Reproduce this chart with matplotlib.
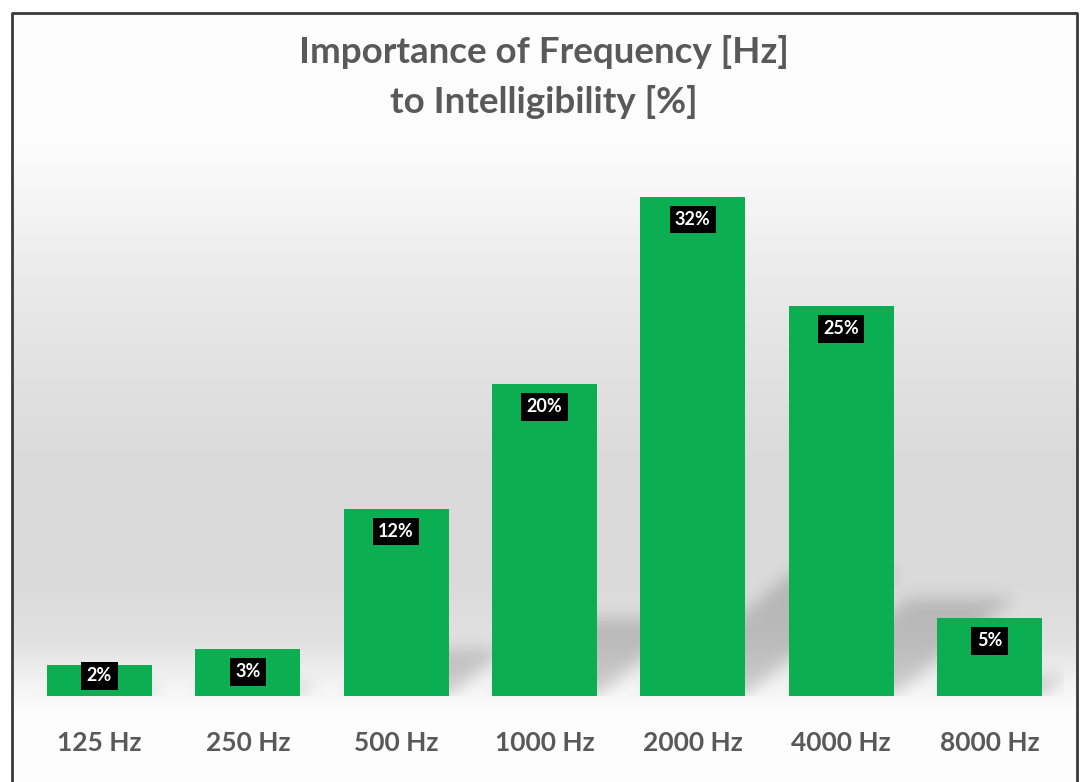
import numpy as np
import matplotlib
matplotlib.use("Agg")
import matplotlib.pyplot as plt
from matplotlib.lines import Line2D

# Data
bands = ["125 Hz", "250 Hz", "500 Hz", "1000 Hz", "2000 Hz", "4000 Hz", "8000 Hz"]
importance = [2, 3, 12, 20, 32, 25, 5]
value_labels = ["2%", "3%", "12%", "20%", "32%", "25%", "5%"]

W, H = 1088, 782
BAR_GREEN = "#0bae50"
TEXT_GREY = "#595959"
FONT = "Lato"

fig = plt.figure(figsize=(W / 100, H / 100), dpi=100)

# Background: white top, grey middle, fading back to white at the floor
bg = fig.add_axes([0, 0, 1, 1], zorder=0)
rows = np.arange(H)
stops_px = [0, 150, 230, 300, 450, 580, 640, 690, 712, H]
stops_val = [254, 252, 241, 232, 219, 218, 225, 246, 253, 254]
col = np.interp(rows, stops_px, stops_val) / 255.0
grad = np.repeat(col[:, None], 8, axis=1)
bg.imshow(np.dstack([grad, grad, grad]), aspect="auto", extent=(0, 1, 0, 1),
          interpolation="bilinear")
# white margin outside the frame
bg.axvspan(0, 12 / W, color="white", lw=0)
bg.axvspan(1077 / W, 1, color="white", lw=0)
bg.axhspan(1 - 13 / H, 1, color="white", lw=0)
bg.set_xlim(0, 1)
bg.set_ylim(0, 1)
bg.axis("off")

# Frame
fx0, fx1, fy1 = 12 / W, 1077 / W, 1 - 13 / H
fig.add_artist(Line2D([fx0, fx0, fx1, fx1], [0, fy1, fy1, 0],
                      transform=fig.transFigure, color="#3a3a3a", lw=2))

# Main axes
x = np.arange(len(bands))
ymax = 36
ax = fig.add_axes([25.3 / W, 86 / H, 1038.4 / W, 561.6 / H], zorder=2)
ax.set_facecolor("none")
ax.set_xlim(-0.5, len(bands) - 0.5)
ax.set_ylim(0, ymax)
bar_w = 0.708

# Soft cast shadows leaning up and to the right of each bar
nx, ny = 1038, 562
gx = np.linspace(-0.5, len(bands) - 0.5, nx)
gy = np.linspace(ymax, 0, ny)
XX, YY = np.meshgrid(gx, gy)
mask = np.zeros((ny, nx))
lean = 0.13
for xi, v in zip(x, importance):
    xl = xi - bar_w / 2 + lean * YY
    xr = xi + bar_w / 2 + lean * YY
    inside = (XX >= xl) & (XX <= xr) & (YY <= 0.25 * v)
    mask[inside] = 1.0
sig = 8
k = np.exp(-0.5 * (np.arange(-3 * sig, 3 * sig + 1) / sig) ** 2)
k /= k.sum()
mask = np.apply_along_axis(lambda r: np.convolve(r, k, mode="same"), 1, mask)
mask = np.apply_along_axis(lambda c: np.convolve(c, k, mode="same"), 0, mask)
shadow = np.zeros((ny, nx, 4))
shadow[..., 3] = 0.17 * mask
ax.imshow(shadow, extent=(-0.5, len(bands) - 0.5, 0, ymax), aspect="auto",
          zorder=1, interpolation="bilinear")

ax.bar(x, importance, width=bar_w, color=BAR_GREEN, zorder=2)

# Value tags
for xi, v, lab in zip(x, importance, value_labels):
    ax.text(xi, max(v - 1.45, 1.3), lab, ha="center", va="center",
            color="white", fontsize=13, fontweight="bold", family=FONT,
            zorder=3,
            bbox=dict(boxstyle="square,pad=0.3", fc="black", ec="none"))

ax.set_xticks(x)
ax.set_xticklabels(bands, fontsize=19, fontweight="bold", color=TEXT_GREY,
                   family=FONT)
ax.tick_params(axis="x", length=0, pad=25)
ax.set_yticks([])
for s in ax.spines.values():
    s.set_visible(False)

# Title
fig.text(0.4995, 1 - 63 / H, "Importance of Frequency [Hz]", ha="center",
         va="baseline", fontsize=26.5, fontweight="bold", color=TEXT_GREY,
         family=FONT)
fig.text(0.4995, 1 - 113 / H, "to Intelligibility [%]", ha="center",
         va="baseline", fontsize=26.5, fontweight="bold", color=TEXT_GREY,
         family=FONT)

fig.savefig("out.png", dpi=100)
